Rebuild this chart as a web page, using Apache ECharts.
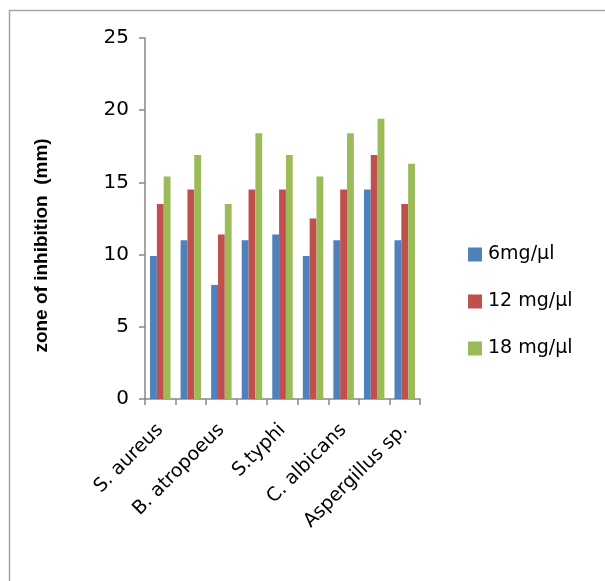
<!DOCTYPE html>
<html><head><meta charset="utf-8">
<script src="https://cdn.jsdelivr.net/npm/echarts@6/dist/echarts.min.js"></script>
<style>html,body{margin:0;padding:0;background:#fff}#c{width:605px;height:581px}</style>
</head><body><div id="c"></div>
<script>
const categories = ["S. aureus","B. subtilis","B. atropoeus","E. coli","S.typhi","P. aeruginosa","C. albicans","A. niger","Aspergillus sp."];
const seriesNames = ["6mg/µl","12 mg/µl","18 mg/µl"];
const dose6 = [9.9, 11, 7.9, 11, 11.4, 9.9, 11, 14.5, 11];
const dose12 = [13.5, 14.5, 11.4, 14.5, 14.5, 12.5, 14.5, 16.9, 13.5];
const dose18 = [15.4, 16.9, 13.5, 18.4, 16.9, 15.4, 18.4, 19.4, 16.3];
const yTicks = [0, 5, 10, 15, 20, 25];
const colors = ["#4f81bd","#c0504d","#9bbb59"];

const chart = echarts.init(document.getElementById('c'));
const font = "'DejaVu Sans', sans-serif";
chart.setOption({
  animation: false,
  graphic: [{type:'rect', shape:{x:9.5,y:10.5,width:800,height:800}, style:{fill:'none', stroke:'#a6a6a6', lineWidth:1.5}}],
  grid: {left:145, right:185, top:38, bottom:182},
  legend: {
    orient:'vertical', left:463, top:240, itemWidth:14, itemHeight:14, itemGap:28,
    icon:'rect',
    textStyle:{fontSize:19, color:'#000', fontFamily:font, padding:[0,0,0,1]},
    data: seriesNames
  },
  xAxis: {
    type:'category', data:categories,
    axisLine:{lineStyle:{color:'#868686', width:1.5}},
    axisTick:{show:true, length:6, interval:0, lineStyle:{color:'#868686', width:1.5}},
    axisLabel:{interval:1, rotate:45, fontSize:19, color:'#000', fontFamily:font, margin:28}
  },
  yAxis: {
    type:'value', min:yTicks[0], max:yTicks[yTicks.length-1], interval:5,
    name:'zone of inhibition  (mm)', nameLocation:'middle', nameGap:94,
    nameTextStyle:{fontSize:19, fontWeight:'bold', color:'#000', fontFamily:"'Liberation Sans', Arial, sans-serif", padding:[0,54,0,0]},
    axisLine:{show:true, lineStyle:{color:'#868686', width:1.5}},
    axisTick:{show:true, length:6, lineStyle:{color:'#868686', width:1.5}},
    axisLabel:{fontSize:20, color:'#000', fontFamily:font, margin:16},
    splitLine:{show:false}
  },
  series: [dose6, dose12, dose18].map((d,i)=>({
    name: seriesNames[i], type:'bar', data:d, barGap:'0%', barCategoryGap:'33%',
    itemStyle:{color:colors[i]}
  }))
});
</script></body></html>
